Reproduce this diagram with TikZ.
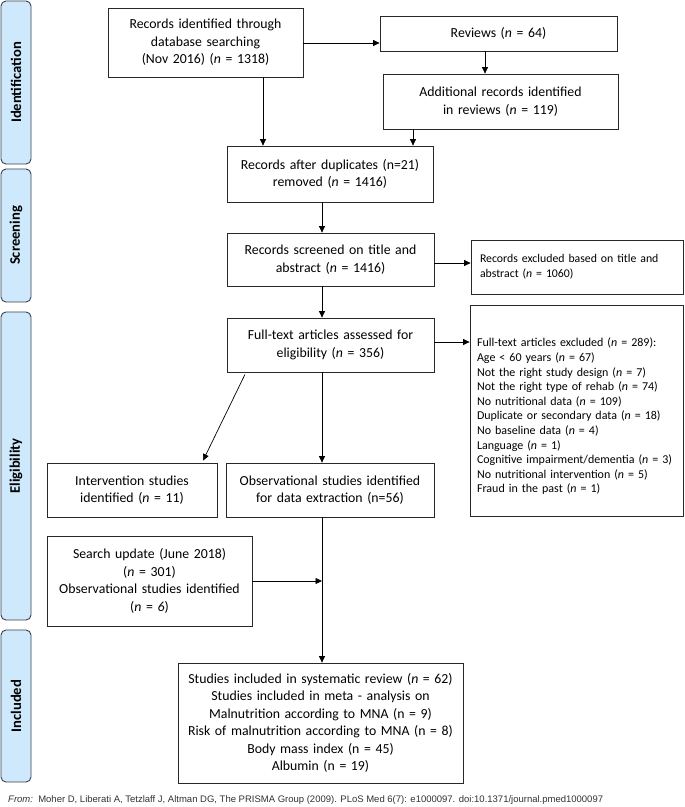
\documentclass[tikz,border=0pt]{standalone}
\usepackage{fontspec}
\setmainfont{Carlito}
\newfontfamily\footfont{Liberation Sans}
\usetikzlibrary{arrows.meta,calc}
\definecolor{sidefill}{RGB}{206,232,252}
\definecolor{sidedraw}{RGB}{55,65,78}
\definecolor{boxdraw}{RGB}{40,40,40}
\definecolor{foot}{RGB}{50,50,50}
\begin{document}
\begin{tikzpicture}[x=1pt,y=-1pt,
  box/.style={draw=boxdraw, line width=0.8pt, inner sep=0pt, align=center,
    font=\fontsize{13.8}{17.5}\selectfont},
  smallbox/.style={draw=boxdraw, line width=0.8pt, inner ysep=0pt, align=left},
  side/.style={draw=sidedraw, fill=sidefill, line width=0.9pt, rounded corners=5pt,
    rotate=90, inner sep=0pt, font=\fontsize{14.6}{16}\selectfont\bfseries},
  arr/.style={-{Triangle[length=6.5pt,width=6pt]}, line width=0.7pt, draw=black},
  ln/.style={line width=0.7pt, draw=black}
]
\useasboundingbox (0,0) rectangle (685,807);

% side labels
\node[side, minimum width=163pt, minimum height=30pt] (sid) at (16,82.5) {Identification};
\node[side, minimum width=133pt, minimum height=30pt] (sscr) at (16,235.5) {Screening};
\node[side, minimum width=308pt, minimum height=30pt] (selig) at (16,466) {Eligibility};
\node[side, minimum width=152pt, minimum height=30pt] (sinc) at (16,706) {Included};

% boxes
\node[box, text width=195pt, minimum height=69pt] (A) at (205.5,42.5)
  {Records identified through\\database searching\\(Nov 2016) (\textit{n} = 1318)};
\node[box, text width=237pt, minimum height=35pt] (B) at (498.5,33.5)
  {Reviews (\textit{n} = 64)};
\node[box, text width=235pt, minimum height=55pt] (C) at (500.5,101.5)
  {Additional records identified\\in reviews (\textit{n} = 119)};
\node[box, text width=206pt, minimum height=56pt] (D) at (330,174)
  {Records after duplicates (n=21)\\removed (\textit{n} = 1416)};
\node[box, text width=207pt, minimum height=53pt] (E) at (330.5,259.5)
  {Records screened on title and\\abstract (\textit{n} = 1416)};
\node[smallbox, inner xsep=9pt, text width=194pt, minimum height=54pt,
  font=\fontsize{11.8}{15}\selectfont] (F) at (577,267)
  {Records excluded based on title and\\abstract (\textit{n} = 1060)};
\node[box, text width=207pt, minimum height=54pt] (G) at (330.5,345)
  {Full-text articles assessed for\\eligibility (\textit{n} = 356)};
\node[smallbox, inner xsep=7pt, text width=199pt, minimum height=211pt,
  font=\fontsize{12}{14.6}\selectfont] (H) at (576.5,410.5)
  {\mbox{}\\[6pt]Full-text articles excluded (\textit{n} = 289):\\
   Age < 60 years (\textit{n} = 67)\\
   Not the right study design (\textit{n} = 7)\\
   Not the right type of rehab (\textit{n} = 74)\\
   No nutritional data (\textit{n} = 109)\\
   Duplicate or secondary data (\textit{n} = 18)\\
   No baseline data (\textit{n} = 4)\\
   Language (\textit{n} = 1)\\
   Cognitive impairment/dementia (\textit{n} = 3)\\
   No nutritional intervention (\textit{n} = 5)\\
   Fraud in the past (\textit{n} = 1)};
\node[box, text width=170pt, minimum height=54pt] (I) at (132,490)
  {Intervention studies\\identified (\textit{n} = 11)};
\node[box, text width=208pt, minimum height=54pt] (J) at (330,490)
  {Observational studies identified\\for data extraction (n=56)};
\node[box, text width=205pt, minimum height=90pt] (L) at (149.5,581)
  {Search update (June 2018)\hspace*{35pt}\\(\textit{n} = 301)\\Observational studies identified\\(\textit{n} = \textit{6})};
\node[box, text width=285pt, minimum height=120pt] (K) at (320.5,723)
  {Studies included in systematic review (\textit{n} = 62)\\
   Studies included in meta - analysis on\hspace*{52pt}\\
   Malnutrition according to MNA (n = 9)\\
   Risk of malnutrition according to MNA (n = 8)\\
   Body mass index (n = 45)\\
   Albumin (n = 19)};

% footer
\node[anchor=west, inner sep=0pt, text=foot, font=\footfont\fontsize{9.5}{11}\selectfont] (foot) at (8,800)
  {\textit{From:}\ \ Moher D, Liberati A, Tetzlaff J, Altman DG, The PRISMA Group (2009). PLoS Med 6(7): e1000097. doi:10.1371/journal.pmed1000097};

% helper x positions
\coordinate (x263) at (263,0);
\coordinate (x413) at (413,0);
\coordinate (x485) at (485,0);
\coordinate (x322) at (322,0);
\coordinate (x245) at (245,0);
\coordinate (x203) at (203,0);
\coordinate (y43) at (0,43);
\coordinate (y263) at (0,263);
\coordinate (y342) at (0,342);
\coordinate (m) at (322,581);

% connectors
\draw[arr] (A.east |- y43) -- (B.west |- y43);
\draw[arr] (B.south -| x485) -- (C.north -| x485);
\draw[arr] (A.south -| x263) -- (D.north -| x263);
\draw[arr] (C.south -| x413) -- (D.north -| x413);
\draw[arr] (D.south -| x322) -- (E.north -| x322);
\draw[arr] (E.east |- y263) -- (F.west |- y263);
\draw[arr] (E.south -| x322) -- (G.north -| x322);
\draw[arr] (G.east |- y342) -- (H.west |- y342);
\draw[arr] ($(G.south -| x245)+(0,2)$) -- ($(I.north -| x203)+(0,-2)$);
\draw[arr] (G.south -| x322) -- (J.north -| x322);
\draw[arr] (J.south -| x322) -- (K.north -| x322);
\draw[arr] (L.east |- m) -- (m);
\end{tikzpicture}
\end{document}
